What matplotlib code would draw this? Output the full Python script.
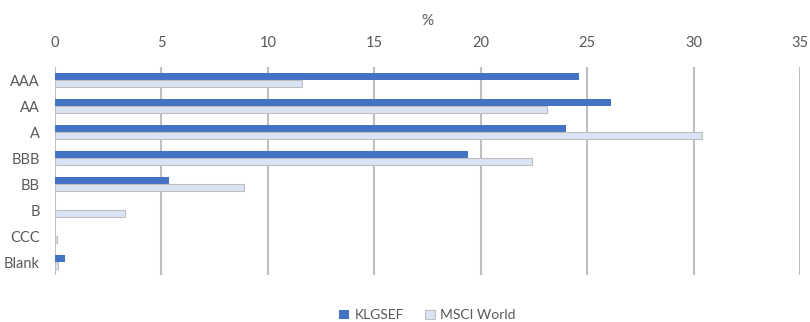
import numpy as np
import matplotlib.pyplot as plt

categories = ["AAA", "AA", "A", "BBB", "BB", "B", "CCC", "Blank"]
klgsef = [24.6, 26.1, 24.0, 19.4, 5.35, 0, 0, 0.45]
msci = [11.6, 23.1, 30.4, 22.4, 8.9, 3.3, 0.1, 0.15]
ticks = [0, 5, 10, 15, 20, 25, 30, 35]

plt.rcParams['font.family'] = ['Lato', 'DejaVu Sans']
txt = '#595959'

fig = plt.figure(figsize=(8.1, 3.22), dpi=100)
ax = fig.add_axes([55 / 810, 1 - 275 / 322, 745 / 810, 208 / 322])

y = np.arange(len(categories))
h = 0.27
ax.barh(y - h / 2, klgsef, height=h, color='#4472C4', label='KLGSEF', zorder=3)
ax.barh(y + h / 2, msci, height=h, color='#DAE3F3', edgecolor='#BFBFBF',
        linewidth=0.8, label='MSCI World', zorder=3)

ax.set_xlim(0, 35)
ax.set_ylim(len(categories) - 0.5, -0.5)
ax.set_xticks(ticks)
ax.xaxis.tick_top()
ax.xaxis.set_label_position('top')
ax.set_xlabel('%', color=txt, fontsize=11, labelpad=8)
ax.set_yticks(y)
ax.set_yticklabels(categories)
ax.tick_params(axis='both', length=0, colors=txt, labelsize=10.5)
ax.tick_params(axis='x', pad=12)
ax.tick_params(axis='y', pad=11)
ax.grid(axis='x', color='#BFBFBF', linewidth=1.5, zorder=0)
for s in ax.spines.values():
    s.set_visible(False)

ax.legend(loc='upper center', bbox_to_anchor=(0.5, -0.105), ncol=2, frameon=False,
          fontsize=10, labelcolor=txt, handlelength=0.7, handleheight=0.7,
          columnspacing=1.5, handletextpad=0.4)

fig.savefig('out.png', dpi=100)
